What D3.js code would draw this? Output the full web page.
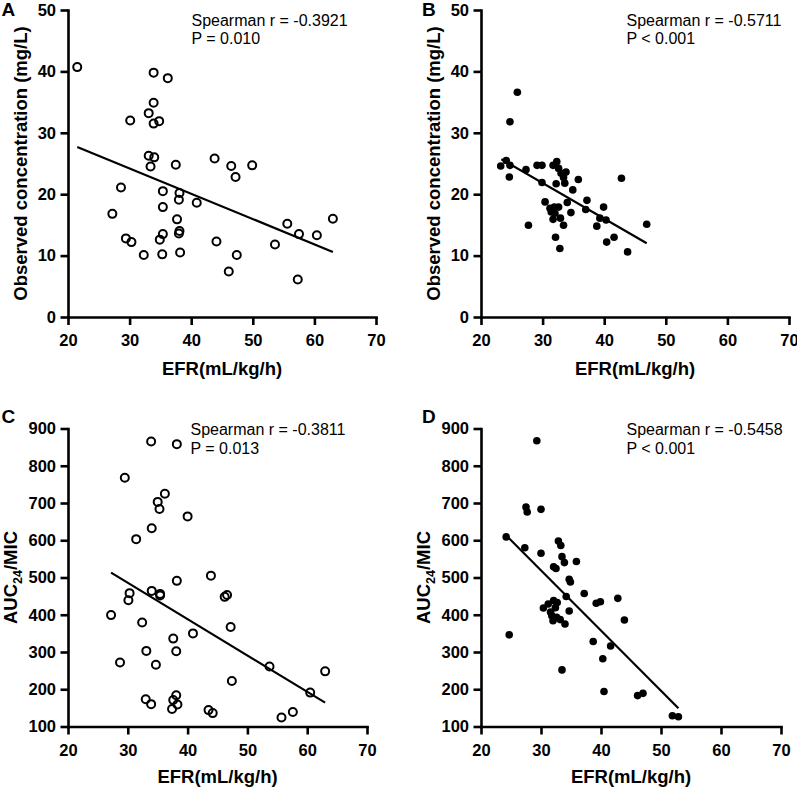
<!DOCTYPE html>
<html>
<head>
<meta charset="utf-8">
<script src="https://cdn.jsdelivr.net/npm/d3@7"></script>
<style>
    body { margin: 0; background: #fff; }
    text { font-family: "Liberation Sans", Arial, sans-serif; }
</style>
</head>
<body>
<svg id="chart" width="797" height="787"></svg>
<script>
// tick values shared by the panels
const efrTicks = [20, 30, 40, 50, 60, 70];
const concTicks = [0, 10, 20, 30, 40, 50];
const aucTicks = [100, 200, 300, 400, 500, 600, 700, 800, 900];

// panel A: observed concentration vs EFR (open circles)
const efrA = [21.5, 33.9, 36.2, 33.9, 33.1, 34.8, 33.9, 30.1, 33.1, 34.0, 33.4, 37.5, 43.8, 46.5,
    49.9, 47.2, 28.6, 35.4, 38.1, 38.0, 40.9, 35.4, 27.2, 37.7, 55.6, 63.0, 35.4, 38.1, 38.0, 57.5,
    60.4, 29.4, 30.3, 34.9, 44.1, 53.6, 32.3, 35.3, 38.2, 47.4, 46.1, 57.3];
const concA = [40.7, 39.8, 38.9, 34.9, 33.2, 31.9, 31.5, 32.0, 26.25, 26.0, 24.5, 24.8, 25.8, 24.6,
    24.7, 22.8, 21.1, 20.5, 20.2, 19.1, 18.6, 17.9, 16.8, 15.9, 15.2, 16.0, 13.5, 14.0, 13.6, 13.5,
    13.3, 12.8, 12.2, 12.6, 12.3, 11.8, 10.1, 10.2, 10.5, 10.1, 7.4, 6.1];
const fitA = [[21.5, 27.7], [63.0, 10.6]];

// panel B: observed concentration vs EFR (filled dots)
const efrB = [23.2, 24.1, 24.7, 24.6, 25.9, 24.7, 27.3, 29.1, 29.9, 29.9, 31.7, 32.3, 32.6, 33.0,
    33.8, 33.4, 33.6, 32.2, 35.8, 42.8, 34.9, 30.4, 34.0, 37.2, 39.9, 37.0, 31.2, 31.9, 32.6, 31.4,
    32.0, 31.7, 32.9, 34.6, 39.3, 40.3, 27.7, 33.4, 38.8, 46.9, 32.1, 41.6, 40.4, 32.8, 43.8];
const concB = [24.6, 25.5, 24.7, 22.8, 36.6, 31.8, 24.0, 24.7, 24.7, 21.9, 24.7, 25.3, 24.2, 23.4,
    23.6, 22.7, 21.8, 21.7, 22.4, 22.6, 20.7, 18.75, 18.65, 19.0, 17.9, 17.5, 17.7, 17.9, 17.9, 17.1,
    16.9, 15.9, 16.1, 17.0, 16.1, 15.8, 14.95, 14.95, 14.8, 15.1, 13.0, 13.0, 12.2, 11.15, 10.6];
const fitB = [[23.3, 25.7], [46.9, 12.0]];

// panel C: AUC24/MIC vs EFR (open circles)
const efrC = [33.9, 38.2, 29.5, 36.2, 35.0, 35.3, 40.0, 34.0, 31.4, 43.9, 38.2, 34.0, 35.4, 35.4,
    30.3, 30.1, 46.2, 46.6, 27.2, 32.4, 47.2, 40.9, 37.6, 33.1, 38.1, 28.7, 34.7, 53.7, 63.0, 47.4,
    60.5, 38.1, 33.0, 37.6, 33.9, 38.3, 37.4, 43.5, 44.2, 57.6, 55.7];
const aucC = [865, 858, 768, 725, 703, 684, 664, 632, 603, 505, 491, 464, 456, 452,
    458, 439, 448, 453, 399, 379, 367, 350, 336, 303, 302, 272, 266, 261, 248, 222,
    191, 184, 173, 171, 160, 159, 147, 144, 136, 139, 124];
const fitC = [[27.2, 513], [63.0, 164]];

// panel D: AUC24/MIC vs EFR (filled dots)
const efrD = [29.3, 27.5, 27.7, 30.0, 24.2, 27.3, 30.0, 32.9, 33.3, 33.5, 33.9, 35.9, 32.1, 32.5,
    34.7, 34.9, 37.2, 34.2, 42.8, 39.2, 39.9, 30.4, 31.2, 32.1, 32.7, 31.6, 34.7, 43.9, 32.0, 32.6,
    33.2, 34.0, 32.4, 31.8, 24.7, 38.7, 41.6, 40.3, 33.5, 40.5, 46.1, 47.0, 51.9, 52.9];
const aucD = [867, 689, 676, 683, 609, 580, 565, 598, 586, 556, 540, 543, 529, 524,
    495, 488, 457, 449, 444, 431, 435, 418, 429, 438, 433, 407, 410, 386, 384, 393,
    387, 375, 419, 397, 346, 328, 316, 282, 252, 194, 183, 189, 129, 126];
const fitD = [[24.2, 613], [52.9, 149]];

// annotation text
const spearman = ['Spearman r = -0.3921', 'Spearman r = -0.5711', 'Spearman r = -0.3811', 'Spearman r = -0.5458'];
const pValues = ['P = 0.010', 'P < 0.001', 'P = 0.013', 'P < 0.001'];
const letters = ['A', 'B', 'C', 'D'];

class ScatterPanel {
    constructor(svg, cfg) {
        this.svg = svg;
        this.cfg = cfg;
        this.initScales();
        this.drawAxes();
        this.drawPoints();
        this.drawLabels();
    }

    // pixel box of the plot area -> d3 scales
    initScales() {
        const c = this.cfg;
        this.x = d3.scaleLinear().domain([20, 70]).range([c.left, c.right]);
        this.y = d3.scaleLinear().domain(c.yDomain).range([c.bottom, c.top]);
    }

    drawAxes() {
        const c = this.cfg;

        const xAxis = this.svg.append('g')
            .attr('transform', `translate(0,${c.bottom})`)
            .call(d3.axisBottom(this.x).tickValues(efrTicks).tickSize(8).tickPadding(9.5).tickSizeOuter(0));

        const yAxis = this.svg.append('g')
            .attr('transform', `translate(${c.left},0)`)
            .call(d3.axisLeft(this.y).tickValues(c.yTicks).tickSize(7.5).tickPadding(4.5).tickSizeOuter(0));

        [xAxis, yAxis].forEach(g => {
            g.attr('font-family', null).attr('font-size', null);
            g.select('.domain').attr('stroke-width', 2.6).attr('stroke-linecap', 'square');
            g.selectAll('.tick line').attr('stroke-width', 2.6);
            g.selectAll('.tick text')
                .attr('fill', '#000')
                .attr('font-weight', 700)
                .style('font-size', '16.5px')
                .style('font-weight', 'bold');
        });
    }

    drawPoints() {
        const c = this.cfg;
        const pts = c.xs.map((v, i) => [v, c.ys[i]]);

        this.svg.append('g')
            .selectAll('circle')
                .data(pts)
            .join('circle')
                .attr('cx', d => this.x(d[0]))
                .attr('cy', d => this.y(d[1]))
                .attr('r', c.open ? 4 : 3.8)
                .attr('fill', c.open ? 'none' : '#000')
                .attr('stroke', c.open ? '#000' : 'none')
                .attr('stroke-width', 2);

        // regression line
        this.svg.append('line')
            .attr('x1', this.x(c.fit[0][0]))
            .attr('y1', this.y(c.fit[0][1]))
            .attr('x2', this.x(c.fit[1][0]))
            .attr('y2', this.y(c.fit[1][1]))
            .attr('stroke', '#000')
            .attr('stroke-width', 2.2);
    }

    drawLabels() {
        const c = this.cfg;
        const midX = (c.left + c.right) / 2;
        const midY = (c.top + c.bottom) / 2;

        this.svg.append('text')
            .attr('x', midX)
            .attr('y', c.titleY)
            .attr('text-anchor', 'middle')
            .style('font-size', '18.5px')
            .style('font-weight', 'bold')
            .text('EFR(mL/kg/h)');

        const yTitle = this.svg.append('text')
            .attr('transform', `translate(${c.titleX},${midY}) rotate(-90)`)
            .attr('text-anchor', 'middle')
            .style('font-size', '18.5px')
            .style('font-weight', 'bold');
        if (c.auc) {
            yTitle.append('tspan').text('AUC');
            yTitle.append('tspan').attr('dy', 5).style('font-size', '12.5px').text('24');
            yTitle.append('tspan').attr('dy', -5).text('/MIC');
        } else {
            yTitle.text('Observed concentration (mg/L)');
        }

        // statistics in the top right corner
        this.svg.append('text')
            .attr('x', c.statX)
            .attr('y', c.statY)
            .style('font-size', '16px')
            .text(c.stat);
        this.svg.append('text')
            .attr('x', c.statX)
            .attr('y', c.statY + 18.5)
            .style('font-size', '16px')
            .text(c.p);

        // panel letter
        this.svg.append('text')
            .attr('x', c.letterX)
            .attr('y', c.letterY)
            .style('font-size', '19px')
            .style('font-weight', 'bold')
            .text(c.letter);
    }
}

const svg = d3.select('#chart');

new ScatterPanel(svg, {
    left: 68, right: 376, top: 10, bottom: 317, yDomain: [0, 50], yTicks: concTicks,
    xs: efrA, ys: concA, fit: fitA, open: true, auc: false, titleX: 27, titleY: 375,
    stat: spearman[0], p: pValues[0], statX: 191.5, statY: 25.5, letter: letters[0], letterX: 1.5, letterY: 15.5
});
new ScatterPanel(svg, {
    left: 481, right: 789, top: 10, bottom: 317, yDomain: [0, 50], yTicks: concTicks,
    xs: efrB, ys: concB, fit: fitB, open: false, auc: false, titleX: 440, titleY: 375,
    stat: spearman[1], p: pValues[1], statX: 626.5, statY: 25.5, letter: letters[1], letterX: 422, letterY: 15.5
});
new ScatterPanel(svg, {
    left: 68, right: 367, top: 428.5, bottom: 726.5, yDomain: [100, 900], yTicks: aucTicks,
    xs: efrC, ys: aucC, fit: fitC, open: true, auc: true, titleX: 17, titleY: 782.5,
    stat: spearman[2], p: pValues[2], statX: 190.5, statY: 435, letter: letters[2], letterX: 1.5, letterY: 423
});
new ScatterPanel(svg, {
    left: 481, right: 781, top: 428.5, bottom: 726.5, yDomain: [100, 900], yTicks: aucTicks,
    xs: efrD, ys: aucD, fit: fitD, open: false, auc: true, titleX: 430, titleY: 782.5,
    stat: spearman[3], p: pValues[3], statX: 626.5, statY: 435, letter: letters[3], letterX: 422, letterY: 423
});
</script>
</body>
</html>
